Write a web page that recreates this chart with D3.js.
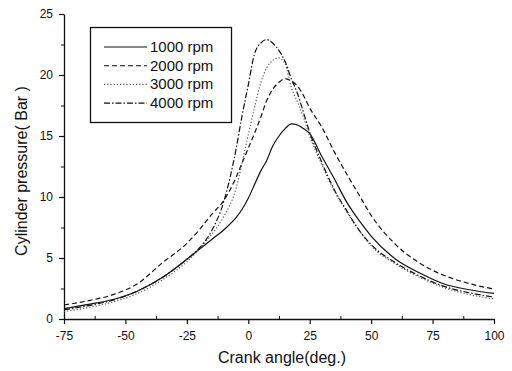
<!DOCTYPE html>
<html>
<head>
<meta charset="utf-8">
<script src="https://cdn.jsdelivr.net/npm/d3@7"></script>
<style>
  body { margin: 0; background: #fff; }
  svg { font-family: "Liberation Sans", Arial, sans-serif; }
</style>
</head>
<body>
<div class="container"></div>
<script>
// crank angle samples (deg.)
var angles = [-75, -65, -55, -45, -35, -25, -20, -15, -10, -5, -2.5, 0, 2.5, 5, 7.5, 10, 12.5,
    15, 17.5, 20, 22.5, 25, 30, 35, 40, 45, 50, 60, 70, 80, 90, 100];

// cylinder pressure (Bar)
var p1000 = [0.85, 1.2, 1.6, 2.3, 3.4, 4.9, 5.7, 6.5, 7.3, 8.3, 9.0, 9.9, 11.0, 12.1, 13.0, 14.2, 15.0,
    15.6, 16.0, 15.9, 15.6, 15.2, 13.3, 11.5, 9.6, 8.1, 6.8, 4.9, 3.75, 2.85, 2.4, 2.1];
var p2000 = [1.15, 1.5, 2.0, 2.9, 4.6, 6.2, 7.3, 8.55, 9.7, 11.6, 12.8, 14.0, 15.2, 16.5, 17.9, 18.85, 19.4,
    19.7, 19.5, 19.1, 18.3, 17.3, 15.7, 13.7, 11.9, 10.2, 8.5, 6.1, 4.55, 3.55, 2.9, 2.45];
var p3000 = [0.6, 0.95, 1.4, 2.1, 3.2, 4.7, 5.7, 6.9, 8.4, 10.7, 12.8, 15.1, 17.3, 19.3, 20.6, 21.2, 21.4,
    20.9, 19.0, 17.8, 16.5, 15.0, 12.6, 10.5, 8.8, 7.3, 6.0, 4.5, 3.4, 2.55, 2.0, 1.65];
var p4000 = [0.75, 1.1, 1.55, 2.3, 3.4, 4.9, 5.8, 7.2, 9.6, 13.9, 16.7, 19.2, 21.7, 22.6, 22.9, 22.6, 22.0,
    21.1, 19.7, 18.5, 16.9, 15.3, 12.8, 10.6, 8.9, 7.3, 6.1, 4.6, 3.5, 2.65, 2.15, 1.8];

var seriesNames = ['1000 rpm', '2000 rpm', '3000 rpm', '4000 rpm'];
var seriesValues = [p1000, p2000, p3000, p4000];
var dashes = [null, '5,3', '1.2,2', '6,2,1.5,2'];
var strokes = ['#111', '#111', '#555', '#111'];

var xTicks = [-75, -50, -25, 0, 25, 50, 75, 100];
var yTicks = [0, 5, 10, 15, 20, 25];

var WIDTH = 512, HEIGHT = 371;
var LEFT = 64, RIGHT = 494, TOP = 14, BOTTOM = 319;

var svg = d3.select('.container').append('svg')
    .attr('width', WIDTH)
    .attr('height', HEIGHT);

var xScale = d3.scaleLinear().domain([-75, 100]).range([LEFT, RIGHT]);
var yScale = d3.scaleLinear().domain([0, 25]).range([BOTTOM, TOP]);

// plain hyphen for negatives, like the original
var plain = function (d) { return String(d); };

// minor ticks first, then major axes on top
var xMinor = d3.range(-62.5, 100, 25);
var yMinor = d3.range(2.5, 25, 5);

svg.append('g')
    .attr('transform', 'translate(0,' + BOTTOM + ')')
    .call(d3.axisBottom(xScale).tickValues(xMinor).tickSize(-3).tickFormat(''))
    .call(function (g) { g.select('.domain').remove(); })
    .selectAll('line').attr('stroke', '#111');

svg.append('g')
    .attr('transform', 'translate(' + LEFT + ',0)')
    .call(d3.axisLeft(yScale).tickValues(yMinor).tickSize(3).tickFormat(''))
    .call(function (g) { g.select('.domain').remove(); })
    .selectAll('line').attr('stroke', '#111');

var xAxis = svg.append('g')
    .attr('transform', 'translate(0,' + BOTTOM + ')')
    .call(d3.axisBottom(xScale).tickValues(xTicks).tickFormat(plain)
        .tickSize(5).tickSizeOuter(0).tickPadding(7));

var yAxis = svg.append('g')
    .attr('transform', 'translate(' + LEFT + ',0)')
    .call(d3.axisLeft(yScale).tickValues(yTicks).tickFormat(plain)
        .tickSize(5).tickSizeOuter(0).tickPadding(6));

[xAxis, yAxis].forEach(function (g) {
    g.select('.domain').attr('stroke', '#111').attr('stroke-width', 1.3);
    g.selectAll('.tick line').attr('stroke', '#111').attr('stroke-width', 1.2);
    g.selectAll('.tick text')
        .attr('fill', '#111')
        .style('font-size', '12px')
        .style('font-family', '"Liberation Sans", Arial, sans-serif');
});

// curves
var line = d3.line()
    .x(function (d) { return xScale(d[0]); })
    .y(function (d) { return yScale(d[1]); })
    .curve(d3.curveMonotoneX);

seriesValues.forEach(function (vals, i) {
    svg.append('path')
        .datum(angles.map(function (a, j) { return [a, vals[j]]; }))
        .attr('d', line)
        .attr('fill', 'none')
        .attr('stroke', strokes[i])
        .attr('stroke-width', 1.2)
        .attr('stroke-dasharray', dashes[i]);
});

// legend
var legend = svg.append('g').classed('legend', true);
legend.append('rect')
    .attr('x', 90.5).attr('y', 27.5)
    .attr('width', 141).attr('height', 95)
    .attr('fill', '#fff')
    .attr('stroke', '#111')
    .attr('stroke-width', 1.3);

seriesNames.forEach(function (name, i) {
    var yy = 47 + i * 18.7;
    legend.append('line')
        .attr('x1', 104).attr('x2', 147)
        .attr('y1', yy).attr('y2', yy)
        .attr('stroke', strokes[i])
        .attr('stroke-width', 1.1)
        .attr('stroke-dasharray', dashes[i]);
    legend.append('text')
        .attr('x', 150).attr('y', yy + 5)
        .attr('fill', '#111')
        .style('font-size', '15px')
        .text(name);
});

// axis titles
svg.append('text')
    .attr('x', 282).attr('y', 363)
    .attr('text-anchor', 'middle')
    .attr('fill', '#111')
    .style('font-size', '16px')
    .text('Crank angle(deg.)');

svg.append('text')
    .attr('transform', 'translate(27,' + 171 + ') rotate(-90)')
    .attr('text-anchor', 'middle')
    .attr('fill', '#111')
    .style('font-size', '16px')
    .text('Cylinder pressure( Bar )');
</script>
</body>
</html>
